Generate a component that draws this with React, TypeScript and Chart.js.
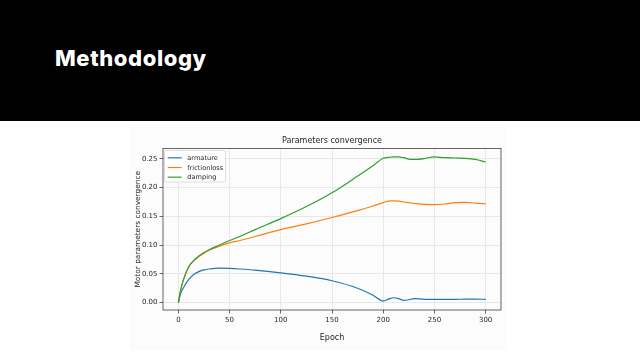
import React, { useEffect, useRef } from "react";
import { Chart, registerables } from "chart.js";

Chart.register(...registerables);

const pageTitle = "Methodology";
const chartTitle = "Parameters convergence";
const xLabel = "Epoch";
const yLabel = "Motor parameters convergence";

const epochs = [0, 2, 5, 10, 15, 20, 25, 30, 40, 50, 60, 75, 100, 125, 150, 175, 190, 200, 205, 210, 215, 220, 225, 230, 240, 250, 260, 270, 280, 290, 300];
const armature = [0, 0.015, 0.026, 0.04, 0.049, 0.054, 0.057, 0.0585, 0.06, 0.0595, 0.0585, 0.0565, 0.0518, 0.046, 0.038, 0.025, 0.013, 0.003, 0.006, 0.0085, 0.007, 0.004, 0.005, 0.007, 0.0058, 0.0057, 0.0058, 0.0058, 0.006, 0.006, 0.0058];
const frictionloss = [0, 0.02, 0.04, 0.062, 0.073, 0.08, 0.086, 0.091, 0.098, 0.104, 0.108, 0.115, 0.127, 0.137, 0.148, 0.16, 0.168, 0.174, 0.1765, 0.177, 0.1765, 0.175, 0.1738, 0.1725, 0.171, 0.1705, 0.1715, 0.174, 0.1745, 0.173, 0.172];
const damping = [0, 0.02, 0.04, 0.062, 0.073, 0.081, 0.087, 0.092, 0.1, 0.108, 0.115, 0.127, 0.146, 0.167, 0.191, 0.22, 0.238, 0.251, 0.2525, 0.2535, 0.2535, 0.252, 0.2495, 0.249, 0.2505, 0.2535, 0.252, 0.2515, 0.251, 0.249, 0.2445];

const seriesLabels = ["armature", "frictionloss", "damping"];
const seriesColors = ["#1f77b4", "#ff7f0e", "#2ca02c"];

const xTicks = [0, 50, 100, 150, 200, 250, 300];
const yTicks = [0, 0.05, 0.1, 0.15, 0.2, 0.25];

const FONT = "'DejaVu Sans', sans-serif";
const TEXT = "#262626";

const toPoints = (ys: number[]) => ys.map((y, i) => ({ x: epochs[i], y }));

const frameAndLegend = {
  id: "frameAndLegend",
  afterDatasetsDraw(chart: any) {
    const { ctx, chartArea: a } = chart;
    ctx.save();
    ctx.strokeStyle = "#404040";
    ctx.lineWidth = 0.8;
    ctx.strokeRect(a.left, a.top, a.right - a.left, a.bottom - a.top);

    // axes title, centred over the plot area
    ctx.fillStyle = TEXT;
    ctx.font = `8px ${FONT}`;
    ctx.textAlign = "center";
    ctx.textBaseline = "middle";
    ctx.fillText(chartTitle, (a.left + a.right) / 2, a.top - 7.5);

    const x0 = a.left + 1.5;
    const y0 = a.top + 2;
    const w = 61;
    const h = 31.5;
    ctx.beginPath();
    if ((ctx as any).roundRect) (ctx as any).roundRect(x0, y0, w, h, 2);
    else ctx.rect(x0, y0, w, h);
    ctx.fillStyle = "rgba(255,255,255,0.85)";
    ctx.fill();
    ctx.strokeStyle = "#d4d4d4";
    ctx.lineWidth = 0.8;
    ctx.stroke();

    ctx.font = `6.6px ${FONT}`;
    ctx.textBaseline = "middle";
    ctx.textAlign = "left";
    chart.data.datasets.forEach((ds: any, i: number) => {
      const yy = a.top + 9.3 + i * 9.7;
      ctx.beginPath();
      ctx.strokeStyle = ds.borderColor;
      ctx.lineWidth = 1.2;
      ctx.moveTo(a.left + 4.7, yy);
      ctx.lineTo(a.left + 18.7, yy);
      ctx.stroke();
      ctx.fillStyle = TEXT;
      ctx.fillText(ds.label, a.left + 24.3, yy + 0.3);
    });
    ctx.restore();
  },
};

export default function App() {
  const ref = useRef<HTMLCanvasElement | null>(null);

  useEffect(() => {
    if (!ref.current) return;
    const seriesData = [armature, frictionloss, damping];
    const chart = new Chart(ref.current, {
      type: "line",
      data: {
        datasets: seriesData.map((ys, i) => ({
          label: seriesLabels[i],
          data: toPoints(ys),
          borderColor: seriesColors[i],
          backgroundColor: seriesColors[i],
          borderWidth: 1.2,
          pointRadius: 0,
          fill: false,
          cubicInterpolationMode: "monotone" as const,
          order: 3 - i,
        })),
      },
      options: {
        animation: false,
        responsive: false,
        devicePixelRatio: 1,
        layout: { padding: { left: 0, right: 6, top: 23.5, bottom: 0 } },
        plugins: {
          legend: { display: false },
          tooltip: { enabled: false },
          title: { display: false },
        },
        scales: {
          x: {
            type: "linear",
            min: -15,
            max: 315,
            afterBuildTicks: (s: any) => {
              s.ticks = xTicks.map((v) => ({ value: v }));
            },
            afterFit: (s: any) => {
              s.height = 40;
            },
            ticks: {
              color: TEXT,
              font: { family: FONT, size: 7 },
              padding: 2,
              maxRotation: 0,
              autoSkip: false,
              callback: (v: any) => String(v),
            },
            grid: { color: "#e2e2e2", lineWidth: 0.8, tickLength: 3.5, tickColor: "#404040" },
            border: { display: false },
            title: {
              display: true,
              text: xLabel,
              color: TEXT,
              font: { family: FONT, size: 8 },
              padding: { top: 0, bottom: 7.2 },
            },
          },
          y: {
            type: "linear",
            min: -0.0128,
            max: 0.268,
            afterBuildTicks: (s: any) => {
              s.ticks = yTicks.map((v) => ({ value: v }));
            },
            afterFit: (s: any) => {
              s.width = 33;
            },
            ticks: {
              color: TEXT,
              font: { family: FONT, size: 7 },
              padding: 2,
              autoSkip: false,
              callback: (v: any) => Number(v).toFixed(2),
            },
            grid: { color: "#e2e2e2", lineWidth: 0.8, tickLength: 3.5, tickColor: "#404040" },
            border: { display: false },
            title: {
              display: true,
              text: yLabel,
              color: TEXT,
              font: { family: FONT, size: 7.4 },
              padding: { top: 3.5, bottom: 0 },
            },
          },
        },
      },
      plugins: [frameAndLegend],
    });
    return () => chart.destroy();
  }, []);

  return (
    <div style={{ position: "fixed", left: 0, top: 0, width: 640, height: 360, background: "#ffffff", overflow: "hidden" }}>
      <div style={{ position: "absolute", left: 0, top: 0, width: 640, height: 121, background: "#000000" }} />
      <div
        style={{
          position: "absolute",
          left: 55,
          top: 46.5,
          fontFamily: "Inter, 'Open Sans', sans-serif",
          fontWeight: 800,
          fontSize: 22,
          lineHeight: "22px",
          letterSpacing: 0.6,
          color: "#ffffff",
          whiteSpace: "nowrap",
        }}
      >
        {pageTitle}
      </div>
      <div style={{ position: "absolute", left: 130, top: 125, width: 377, height: 225, background: "#fcfcfc" }}>
        <canvas ref={ref} width={377} height={225} style={{ display: "block", width: 377, height: 225 }} />
      </div>
    </div>
  );
}
